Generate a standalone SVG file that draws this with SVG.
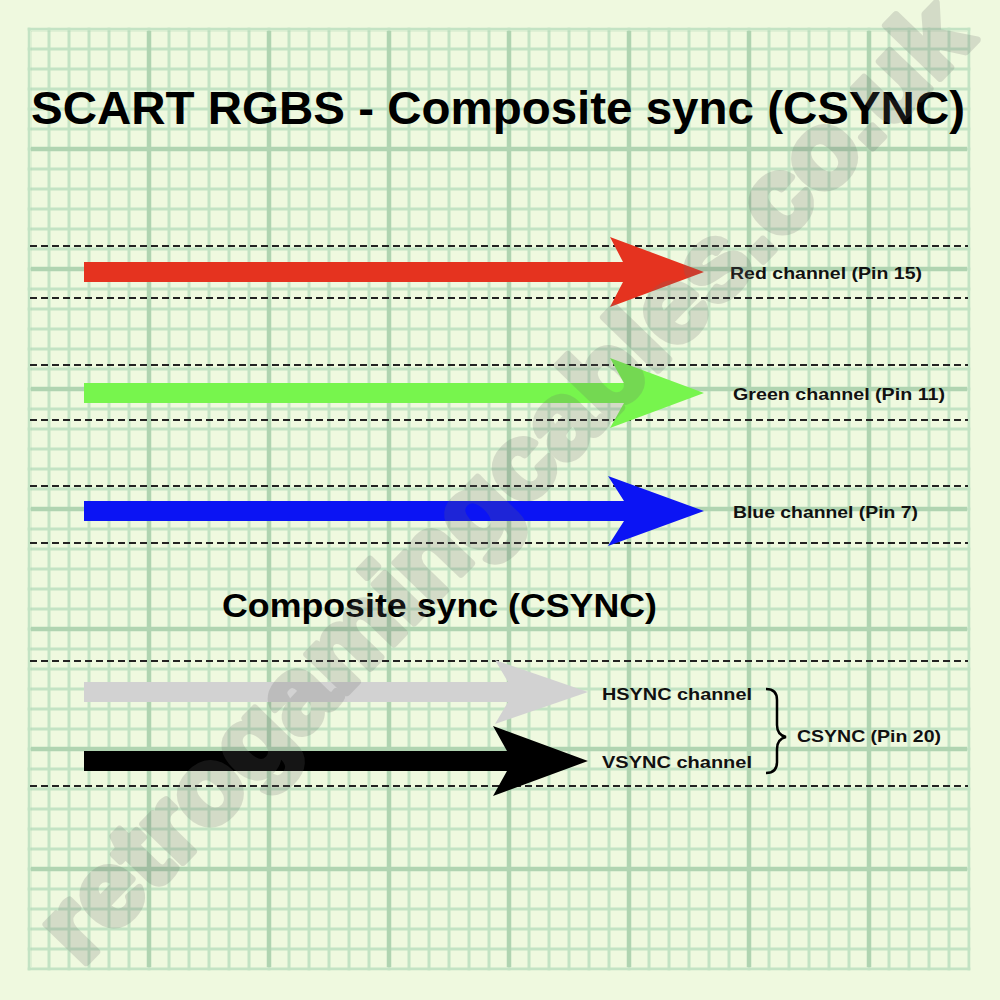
<svg xmlns="http://www.w3.org/2000/svg" width="1000" height="1000" viewBox="0 0 1000 1000">
<defs>
<pattern id="minor" x="19" y="19" width="20" height="20" patternUnits="userSpaceOnUse">
<path d="M10 0V20M0 10H20" stroke="#c3e3c4" stroke-width="3" fill="none"/>
</pattern>
<pattern id="major" x="89" y="89" width="120" height="120" patternUnits="userSpaceOnUse">
<path d="M60 0V120M0 60H120" stroke="#b0d4b1" stroke-width="4.5" fill="none"/>
</pattern>
<style>
.dash{stroke:#222;stroke-width:2.2;stroke-dasharray:7 4;fill:none}
.lbl{font-family:"Liberation Sans",Arial,Helvetica,sans-serif;font-weight:bold;fill:#111}
.title{font-family:"Liberation Sans",Arial,Helvetica,sans-serif;font-weight:bold;fill:#000}
</style>
</defs>
<rect id="background" x="0" y="0" width="1000" height="1000" fill="#eff9df"/>
<g id="grid">
<rect x="27.5" y="27.5" width="943" height="943" fill="url(#minor)"/>
<rect x="31" y="31" width="936" height="936" fill="url(#major)"/>
</g>
<g id="guides">
<path class="dash" d="M30 246H968M30 298H968M30 365H968M30 420H968M30 486H968M30 543H968M30 661H968M30 786H968"/>
</g>
<g id="title">
<text class="title" x="31" y="124" font-size="47" textLength="934" lengthAdjust="spacingAndGlyphs">SCART RGBS - Composite sync (CSYNC)</text>
</g>
<g id="connectors">
<polygon id="arrow-red" fill="#e5331f" points="84,262 623,262 610,237 704,272 610,307 623,282 84,282"/>
<polygon id="arrow-green" fill="#77f54d" points="84,383 624,383 610,358 704,393 610,428 624,403 84,403"/>
<polygon id="arrow-blue" fill="#0b14f4" points="84,501 624,501 608,476 704,511 608,546 624,521 84,521"/>
<polygon id="arrow-hsync" fill="#d2d2d2" points="84,682 508,682 495,660 588,692 495,724 508,702 84,702"/>
<polygon id="arrow-vsync" fill="#000" points="84,751 507,751 493,726 588,761 493,796 507,771 84,771"/>
<path id="brace" d="M766 689Q777 689 777 700V725Q777 735 786 737Q777 739 777 749V762Q777 773 766 773" stroke="#000" stroke-width="2.5" fill="none"/>
</g>
<g id="node-red"><text class="lbl" x="730" y="279" font-size="16.5" textLength="192" lengthAdjust="spacingAndGlyphs">Red channel (Pin 15)</text></g>
<g id="node-green"><text class="lbl" x="733" y="400" font-size="16.5" textLength="212" lengthAdjust="spacingAndGlyphs">Green channel (Pin 11)</text></g>
<g id="node-blue"><text class="lbl" x="733" y="518" font-size="16.5" textLength="185" lengthAdjust="spacingAndGlyphs">Blue channel (Pin 7)</text></g>
<g id="subtitle"><text class="title" x="222" y="617" font-size="33" textLength="435" lengthAdjust="spacingAndGlyphs">Composite sync (CSYNC)</text></g>
<g id="node-hsync"><text class="lbl" x="602" y="700" font-size="16.5" textLength="150" lengthAdjust="spacingAndGlyphs">HSYNC channel</text></g>
<g id="node-vsync"><text class="lbl" x="602" y="768" font-size="16.5" textLength="150" lengthAdjust="spacingAndGlyphs">VSYNC channel</text></g>
<g id="node-csync"><text class="lbl" x="797" y="742" font-size="16.5" textLength="144" lengthAdjust="spacingAndGlyphs">CSYNC (Pin 20)</text></g>
<g id="watermark" opacity="0.2">
<text x="529" y="504" transform="rotate(-46 529 504)" text-anchor="middle" font-family="'Liberation Sans',Arial,sans-serif" font-weight="bold" font-size="105" fill="#6a6a6a" stroke="#6a6a6a" stroke-width="7" stroke-linejoin="round" textLength="1290" lengthAdjust="spacingAndGlyphs">retrogamingcables.co.uk</text>
</g>
</svg>
